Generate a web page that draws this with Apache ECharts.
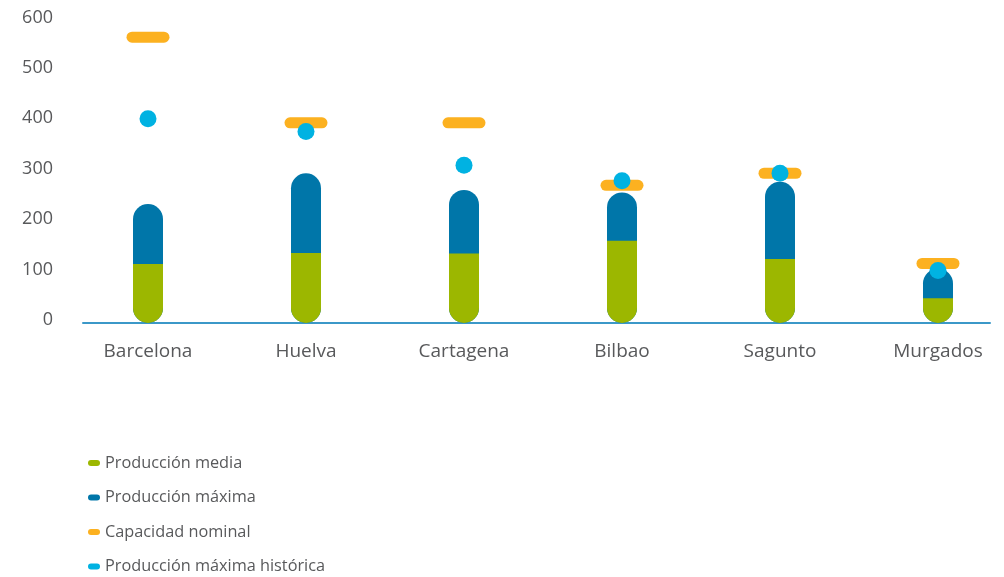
<!DOCTYPE html>
<html>
<head>
<meta charset="utf-8">
<script src="https://cdn.jsdelivr.net/npm/echarts@6/dist/echarts.min.js"></script>
<style>
  html, body { margin: 0; padding: 0; background: #ffffff; }
  #chart { width: 1004px; height: 577px; }
</style>
</head>
<body>
<div id="chart"></div>
<script>
// Refinerías: producción y capacidad (miles de barriles/día)
const categories = ['Barcelona', 'Huelva', 'Cartagena', 'Bilbao', 'Sagunto', 'Murgados'];
const produccionMedia = [117, 139, 138, 163, 127, 49];
const produccionMaxima = [236, 297, 264, 259, 280, 108];
const capacidadNominal = [567, 397, 397, 273, 297, 118];
const produccionMaxHistorica = [405, 380, 313, 282, 297, 104];
const yTicks = { min: 0, max: 600, interval: 100 };

const TEXT = '#58595b';
const FONT = '"Open Sans", "Noto Sans", sans-serif';
const C_MEDIA = '#9cb700';
const C_MAX = '#0076a9';
const C_CAP = '#fcb120';
const C_HIST = '#00b2e2';

// capsule shapes for legend icons and the capacity marks
const pillIcon = 'path://M3,0 H9 A3,3 0 0 1 9,6 H3 A3,3 0 0 1 3,0 Z';
const capPill = 'path://M5.5,0 H37.5 A5.5,5.5 0 0 1 37.5,11 H5.5 A5.5,5.5 0 0 1 5.5,0 Z';

const chart = echarts.init(document.getElementById('chart'), null, { renderer: 'canvas' });

chart.setOption({
  animation: false,
  backgroundColor: '#ffffff',
  textStyle: { fontFamily: FONT },
  grid: [
    // bars: first and last category sit on the grid edges
    { left: 148, right: 66, top: 20.5, height: 302.5, containLabel: false },
    // baseline rule
    { left: 83, width: 907, top: 20.5, height: 302.5, containLabel: false }
  ],
  legend: {
    orient: 'vertical',
    left: 83,
    top: 449,
    height: 128,
    itemWidth: 12,
    itemHeight: 6,
    itemGap: 16.5,
    textStyle: { color: TEXT, fontSize: 16.3, fontFamily: FONT, lineHeight: 18 },
    data: [
      { name: 'Producción media', icon: pillIcon },
      { name: 'Producción máxima', icon: pillIcon },
      { name: 'Capacidad nominal', icon: pillIcon },
      { name: 'Producción máxima histórica', icon: pillIcon }
    ]
  },
  xAxis: [
    {
      type: 'category',
      gridIndex: 0,
      data: categories,
      boundaryGap: false,
      axisLine: { show: false },
      axisTick: { show: false },
      axisLabel: { color: TEXT, fontSize: 19, fontFamily: FONT, margin: 19 }
    },
    {
      type: 'value',
      gridIndex: 1,
      axisLine: { show: true, onZero: false, lineStyle: { color: '#3b98c8', width: 2 } },
      axisTick: { show: false },
      axisLabel: { show: false },
      splitLine: { show: false }
    }
  ],
  yAxis: [
    {
      type: 'value',
      gridIndex: 0,
      min: yTicks.min,
      max: yTicks.max,
      interval: yTicks.interval,
      axisLine: { show: false },
      axisTick: { show: false },
      splitLine: { show: false },
      axisLabel: {
        color: TEXT,
        fontSize: 18,
        fontFamily: FONT,
        margin: 95,
        verticalAlign: 'bottom',
        lineHeight: 6
      }
    },
    {
      type: 'value',
      gridIndex: 1,
      min: yTicks.min,
      max: yTicks.max,
      show: false
    }
  ],
  series: [
    {
      name: 'Producción máxima',
      type: 'bar',
      xAxisIndex: 0,
      yAxisIndex: 0,
      barWidth: 30,
      barGap: '-100%',
      z: 2,
      itemStyle: { color: C_MAX, borderRadius: 15 },
      data: produccionMaxima
    },
    {
      name: 'Producción media',
      type: 'bar',
      xAxisIndex: 0,
      yAxisIndex: 0,
      barWidth: 30,
      barGap: '-100%',
      z: 3,
      itemStyle: { color: C_MEDIA, borderRadius: [0, 0, 15, 15] },
      data: produccionMedia
    },
    {
      name: 'Capacidad nominal',
      type: 'scatter',
      xAxisIndex: 0,
      yAxisIndex: 0,
      symbol: capPill,
      symbolSize: [43, 11],
      z: 4,
      itemStyle: { color: C_CAP, opacity: 1 },
      data: capacidadNominal
    },
    {
      name: 'Producción máxima histórica',
      type: 'scatter',
      xAxisIndex: 0,
      yAxisIndex: 0,
      symbol: 'circle',
      symbolSize: 17,
      z: 5,
      itemStyle: { color: C_HIST, opacity: 1 },
      data: produccionMaxHistorica
    }
  ]
});
</script>
</body>
</html>
